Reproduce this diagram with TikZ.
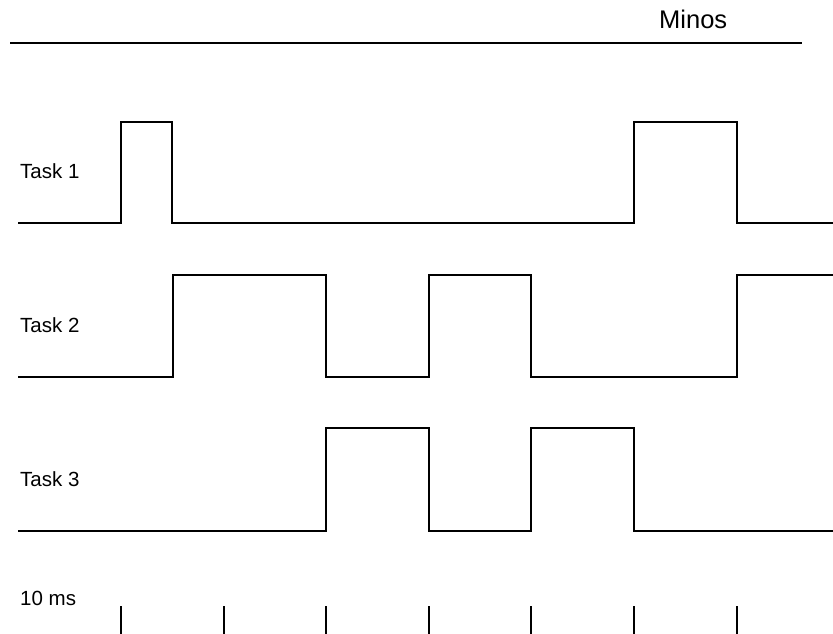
\documentclass[tikz,border=0pt]{standalone}
\usepackage{fontspec}
\setmainfont{Liberation Sans}
\begin{document}
\begin{tikzpicture}[x=1pt,y=-1pt,
  wave/.style={line width=2.3pt},
  rule/.style={line width=2.4pt},
  tickmark/.style={line width=2.3pt},
  lbl/.style={anchor=base west,inner sep=0pt,font=\fontsize{20.5}{24}\selectfont},
  ttl/.style={anchor=base west,inner sep=0pt,font=\fontsize{25.5}{30}\selectfont}]
\useasboundingbox (0,0) rectangle (833,633);
% title and rule
\node[ttl] (title) at (659,28) {Minos};
\coordinate (ruleL) at (10,43);
\coordinate (ruleR) at (802,43);
\draw[rule] (ruleL) -- (ruleR);
% labels
\node[lbl] (t1) at (20,178) {Task 1};
\node[lbl] (t2) at (20,332) {Task 2};
\node[lbl] (t3) at (20,486) {Task 3};
\node[lbl] (ms) at (20,605) {10 ms};
% Task 1
\draw[wave] (18,223) -- (121,223) -- (121,122) -- (172,122) -- (172,223)
  -- (634,223) -- (634,122) -- (737,122) -- (737,223) -- (833,223);
% Task 2
\draw[wave] (18,377) -- (173,377) -- (173,275) -- (326,275) -- (326,377)
  -- (429,377) -- (429,275) -- (531,275) -- (531,377) -- (737,377)
  -- (737,275) -- (833,275);
% Task 3
\draw[wave] (18,531) -- (326,531) -- (326,428) -- (429,428) -- (429,531)
  -- (531,531) -- (531,428) -- (634,428) -- (634,531) -- (833,531);
% ticks
\foreach \x in {121,224,326,429,531,634,737}
  \draw[tickmark] (\x,606) -- (\x,634);
\end{tikzpicture}
\end{document}
